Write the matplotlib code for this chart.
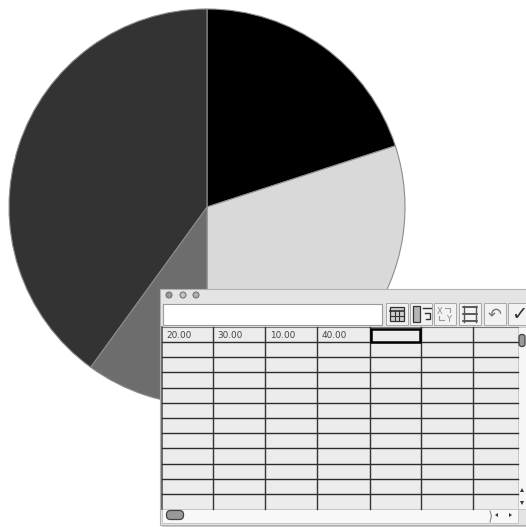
import matplotlib
matplotlib.use("Agg")
import matplotlib.pyplot as plt
from matplotlib.patches import Rectangle, FancyBboxPatch, Circle, Polygon

# Data
values = [20, 30, 10, 40]
slice_colors = ['#000000', '#d9d9d9', '#6d6d6d', '#333333']
cell_labels = ['20.00', '30.00', '10.00', '40.00']

W, H = 526, 527
fig = plt.figure(figsize=(W / 100, H / 100), dpi=100, facecolor='white')
ax = fig.add_axes([0, 0, 1, 1])
ax.set_xlim(0, W)
ax.set_ylim(H, 0)
ax.axis('off')

# Pie: y axis is inverted, so counterclock=True runs clockwise on screen; start at top
ax.pie(values, colors=slice_colors, center=(207, 207), radius=198,
       startangle=-90, counterclock=True, frame=True,
       wedgeprops=dict(edgecolor='#8c8c8c', linewidth=0.8))
ax.set_xlim(0, W)
ax.set_ylim(H, 0)
ax.set_aspect('auto')
ax.axis('off')

# Window
ax.add_patch(Rectangle((162, 292), 366, 236, fc='#8a8a8a', ec='none', alpha=0.45, zorder=4))
ax.add_patch(Rectangle((160, 289), 368, 236, fc='#e4e4e4', ec='#b0b0b0', lw=0.8, zorder=5))
for x, c in zip([169, 183, 196], ['#9a9a9a', '#c4c4c4', '#b0b0b0']):
    ax.add_patch(Circle((x, 295), 3, fc=c, ec='#666666', lw=0.7, zorder=6))

# Text field
ax.add_patch(Rectangle((163, 304), 219, 21, fc='white', ec='#9a9a9a', lw=0.8, zorder=6))

# Toolbar buttons
btn_x = [386, 410, 434, 459, 484, 508]
for x in btn_x:
    ax.add_patch(Rectangle((x, 303), 22, 22, fc='#f2f2f2', ec='#a8a8a8', lw=0.7, zorder=6))
# Icon 1: table
ax.add_patch(Rectangle((390, 307), 14, 14, fc='#cfcfcf', ec='#333333', lw=0.9, zorder=7))
ax.plot([390, 404], [311, 311], color='#333333', lw=1.2, zorder=8)
for x in [394.5, 399]:
    ax.plot([x, x], [311, 321], color='#333333', lw=0.8, zorder=8)
ax.plot([390, 404], [316, 316], color='#333333', lw=0.8, zorder=8)
# Icon 2: columns + arrow
ax.add_patch(Rectangle((413, 306), 7, 16, fc='#b5b5b5', ec='#333333', lw=0.9, zorder=7))
ax.plot([423, 431], [308, 308], color='#333333', lw=1.0, zorder=8)
ax.plot([425, 430, 430, 426], [313, 313, 319, 319], color='#333333', lw=1.0, zorder=8)
# Icon 3: XY
ax.text(440, 311, 'X', fontsize=6, color='#8a8a8a', ha='center', va='center', zorder=8)
ax.text(449, 319, 'Y', fontsize=6, color='#8a8a8a', ha='center', va='center', zorder=8)
ax.plot([445, 450, 450], [308, 308, 312], color='#9a9a9a', lw=0.8, zorder=8)
ax.plot([444, 439, 439], [320, 320, 316], color='#9a9a9a', lw=0.8, zorder=8)
# Icon 4: rows
for y in [307, 314, 321]:
    ax.plot([463, 477], [y, y], color='#333333', lw=1.1, zorder=8)
for x in [464, 476]:
    ax.plot([x, x], [306, 322], color='#555555', lw=1.0, zorder=8)
# Icon 5: undo, Icon 6: check
ax.text(495, 314.5, '\u21b6', fontsize=12, color='#777777', ha='center', va='center', zorder=8)
ax.text(519, 314.5, '\u2713', fontsize=14, color='#333333', ha='center', va='center', zorder=8)

# Grid
grid_left, grid_right = 162, 518
grid_top, grid_bottom = 327, 509
col_x = [213, 265, 317, 370, 421, 473]
row_y = [342, 357, 372.4, 387.6, 402.8, 418, 433.2, 448.4, 463.6, 479, 494]
ax.add_patch(Rectangle((grid_left, grid_top), grid_right - grid_left, grid_bottom - grid_top,
                       fc='#ececec', ec='none', zorder=6))
ax.plot([grid_left, grid_right], [grid_top, grid_top], color='#777777', lw=0.8, zorder=7)
ax.plot([grid_left, grid_left], [grid_top, grid_bottom], color='#555555', lw=1.2, zorder=7)
for y in row_y:
    ax.plot([grid_left, grid_right], [y, y], color='#2c2c2c', lw=1.0, zorder=7)
for x in col_x:
    ax.plot([x, x], [grid_top, grid_bottom], color='#333333', lw=1.0, zorder=7)
ax.add_patch(Rectangle((370.5, 328.5), 49.5, 13, fc='#ececec', ec='black', lw=1.8, zorder=8))

lefts = [166, 217, 270, 322]
for x, s in zip(lefts, cell_labels):
    ax.text(x, 335, s, fontsize=6.4, family='DejaVu Sans', color='#444444',
            ha='left', va='center', zorder=9)

# Vertical scrollbar
ax.add_patch(Rectangle((518, 327), 8, 182, fc='#f6f6f6', ec='#c0c0c0', lw=0.6, zorder=6))
ax.add_patch(FancyBboxPatch((519.5, 335), 5, 11, boxstyle='round,pad=0.5,rounding_size=2.5',
                            fc='#999999', ec='#444444', lw=0.9, zorder=8))
ax.add_patch(Polygon([(520, 492), (524, 492), (522, 488)], fc='#333333', ec='none', zorder=8))
ax.add_patch(Polygon([(520, 501), (524, 501), (522, 505)], fc='#333333', ec='none', zorder=8))

# Horizontal scrollbar
ax.add_patch(Rectangle((162, 509), 356, 14, fc='#f8f8f8', ec='#c0c0c0', lw=0.6, zorder=6))
ax.add_patch(FancyBboxPatch((167, 511), 16, 8, boxstyle='round,pad=0.5,rounding_size=4',
                            fc='#999999', ec='#444444', lw=0.9, zorder=8))
ax.plot([490, 491.5, 490], [511, 516, 522], color='#888888', lw=0.8, zorder=8)
ax.add_patch(Polygon([(498, 513), (498, 517), (495, 515)], fc='#333333', ec='none', zorder=8))
ax.add_patch(Polygon([(509, 513), (509, 517), (512, 515)], fc='#333333', ec='none', zorder=8))

fig.savefig('out.png', dpi=100, facecolor='white')
